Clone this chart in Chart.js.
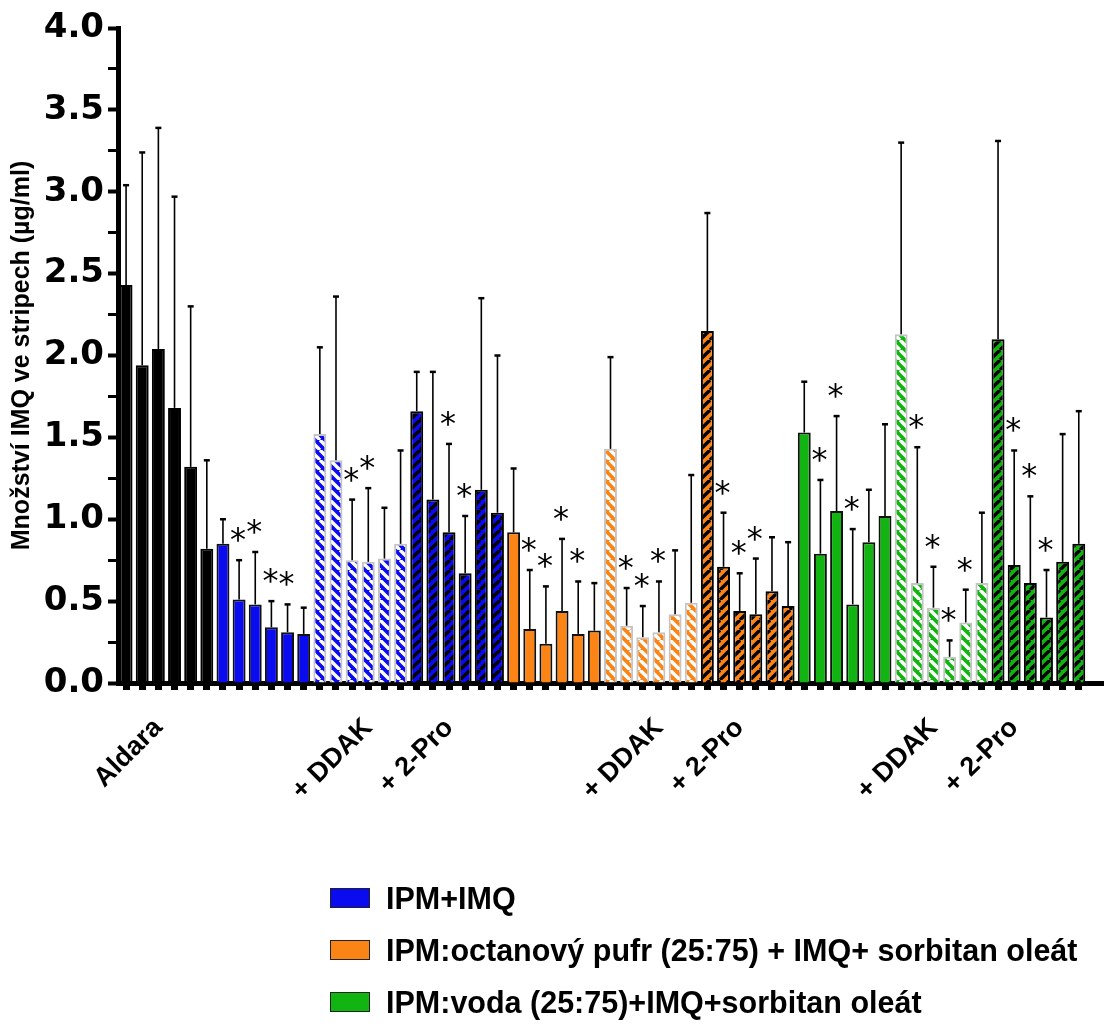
<!DOCTYPE html>
<html>
<head>
<meta charset="utf-8">
<script src="https://cdn.jsdelivr.net/npm/chart.js@4.4.1/dist/chart.umd.min.js"></script>
<style>
  html, body { margin: 0; padding: 0; background: #fff; }
  #wrap { position: relative; width: 1105px; height: 1035px; }
  #legend { position: absolute; left: 330px; top: 872px; font: bold 30.5px "Liberation Sans", Arial, sans-serif; color: #000; }
  #legend div { display: flex; align-items: center; height: 52px; white-space: nowrap; }
  #legend span.box { display: inline-block; width: 38px; height: 18px; border: 1.5px solid #222; margin-right: 16px; }
</style>
</head>
<body>
<div id="wrap">
  <canvas id="chart" width="1105" height="1035"></canvas>
  <div id="legend"></div>
</div>
<script>
// mean values (µg/ml) per group of six strips, upper error, significance star
const aldara      = [2.43, 1.94, 2.04, 1.68, 1.32, 0.82];
const aldaraErr   = [0.61, 1.30, 1.35, 1.29, 0.98, 0.54];
const aldaraSig   = [0, 0, 0, 0, 0, 0];

const ipm         = [0.85, 0.51, 0.48, 0.34, 0.31, 0.30];
const ipmErr      = [0.15, 0.24, 0.32, 0.16, 0.17, 0.16];
const ipmSig      = [0, 1, 1, 1, 1, 0];
const ipmDdak     = [1.52, 1.36, 0.75, 0.74, 0.76, 0.85];
const ipmDdakErr  = [0.53, 1.00, 0.37, 0.45, 0.31, 0.57];
const ipmDdakSig  = [0, 0, 1, 1, 0, 0];
const ipmPro      = [1.66, 1.12, 0.92, 0.67, 1.18, 1.04];
const ipmProErr   = [0.24, 0.78, 0.54, 0.35, 1.17, 0.96];
const ipmProSig   = [0, 0, 1, 1, 0, 0];

const pufr        = [0.92, 0.33, 0.24, 0.44, 0.30, 0.32];
const pufrErr     = [0.39, 0.36, 0.35, 0.44, 0.32, 0.29];
const pufrSig     = [0, 1, 1, 1, 1, 0];
const pufrDdak    = [1.43, 0.35, 0.28, 0.31, 0.42, 0.49];
const pufrDdakErr = [0.56, 0.23, 0.19, 0.31, 0.39, 0.78];
const pufrDdakSig = [0, 1, 1, 1, 0, 0];
const pufrPro     = [2.15, 0.71, 0.44, 0.42, 0.56, 0.47];
const pufrProErr  = [0.72, 0.33, 0.23, 0.34, 0.33, 0.39];
const pufrProSig  = [0, 1, 1, 1, 0, 0];

const voda        = [1.53, 0.79, 1.05, 0.48, 0.86, 1.02];
const vodaErr     = [0.31, 0.45, 0.58, 0.46, 0.32, 0.56];
const vodaSig     = [0, 1, 1, 1, 0, 0];
const vodaDdak    = [2.13, 0.61, 0.46, 0.16, 0.37, 0.61];
const vodaDdakErr = [1.17, 0.83, 0.25, 0.10, 0.20, 0.43];
const vodaDdakSig = [0, 1, 1, 1, 1, 0];
const vodaPro     = [2.10, 0.72, 0.61, 0.40, 0.74, 0.85];
const vodaProErr  = [1.21, 0.70, 0.53, 0.29, 0.78, 0.81];
const vodaProSig  = [0, 1, 1, 1, 0, 0];

// x tick labels and the bar they sit under
const axisLabels    = ['Aldara', '+ DDAK', '+ 2-Pro', '+ DDAK', '+ 2-Pro', '+ DDAK', '+ 2-Pro'];
const axisLabelBars = [2, 15, 20, 33, 38, 50, 55];

const seriesNames  = ['IPM+IMQ', 'IPM:octanový pufr (25:75) + IMQ+ sorbitan oleát', 'IPM:voda (25:75)+IMQ+sorbitan oleát'];
const seriesColors = ['#0b0bf0', '#fb8416', '#12b412'];

const canvas = document.getElementById('chart');
const ctx = canvas.getContext('2d');

function stripes(base, line, rising) {
  const s = 10;
  const tile = document.createElement('canvas');
  tile.width = tile.height = s;
  const g = tile.getContext('2d');
  g.fillStyle = base;
  g.fillRect(0, 0, s, s);
  g.strokeStyle = line;
  g.lineWidth = 3.4;
  for (const o of [-s, 0, s]) {
    g.beginPath();
    if (rising) { g.moveTo(o, s); g.lineTo(o + s, 0); }
    else { g.moveTo(o, 0); g.lineTo(o + s, s); }
    g.stroke();
  }
  return ctx.createPattern(tile, 'repeat');
}

const groups = [
  { mean: aldara,   err: aldaraErr,   sig: aldaraSig,   fill: '#000', border: '#000' },
  { mean: ipm,      err: ipmErr,      sig: ipmSig,      fill: seriesColors[0], border: '#111' },
  { mean: ipmDdak,  err: ipmDdakErr,  sig: ipmDdakSig,  fill: stripes(seriesColors[0], '#fff', false), border: '#c4c4c4' },
  { mean: ipmPro,   err: ipmProErr,   sig: ipmProSig,   fill: stripes(seriesColors[0], '#000', true), border: '#000' },
  { mean: pufr,     err: pufrErr,     sig: pufrSig,     fill: seriesColors[1], border: '#111' },
  { mean: pufrDdak, err: pufrDdakErr, sig: pufrDdakSig, fill: stripes(seriesColors[1], '#fff', false), border: '#c4c4c4' },
  { mean: pufrPro,  err: pufrProErr,  sig: pufrProSig,  fill: stripes(seriesColors[1], '#000', true), border: '#000' },
  { mean: voda,     err: vodaErr,     sig: vodaSig,     fill: seriesColors[2], border: '#111' },
  { mean: vodaDdak, err: vodaDdakErr, sig: vodaDdakSig, fill: stripes(seriesColors[2], '#fff', false), border: '#c4c4c4' },
  { mean: vodaPro,  err: vodaProErr,  sig: vodaProSig,  fill: stripes(seriesColors[2], '#000', true), border: '#000' }
];

const values = [], errors = [], stars = [], fills = [], borders = [];
groups.forEach(g => {
  g.mean.forEach((v, i) => {
    values.push(v);
    errors.push(g.err[i]);
    stars.push(g.sig[i]);
    fills.push(g.fill);
    borders.push(g.border);
  });
});
const nBars = values.length;
// one spare slot at the right so the axis runs past the last bar
const labels = Array.from({ length: nBars + 1 }, (_, i) => {
  const k = axisLabelBars.indexOf(i);
  return k >= 0 ? axisLabels[k] : '';
});

const errorBars = {
  id: 'errorBars',
  afterDatasetsDraw(chart) {
    const c = chart.ctx;
    const y = chart.scales.y;
    const bars = chart.getDatasetMeta(0).data;
    c.save();
    c.strokeStyle = '#000';
    c.fillStyle = '#000';
    c.font = '32px "DejaVu Sans"';
    c.textAlign = 'center';
    bars.forEach((bar, i) => {
      const y0 = y.getPixelForValue(values[i]);
      const y1 = y.getPixelForValue(values[i] + errors[i]);
      c.lineWidth = 1.6;
      c.beginPath(); c.moveTo(bar.x, y0); c.lineTo(bar.x, y1); c.stroke();
      c.lineWidth = 2.5;
      c.beginPath(); c.moveTo(bar.x - 3, y1); c.lineTo(bar.x + 3, y1); c.stroke();
      if (stars[i]) c.fillText('*', bar.x - 1, y1 - 10);
    });
    c.restore();
  }
};

new Chart(ctx, {
  type: 'bar',
  data: {
    labels: labels,
    datasets: [{
      data: values,
      backgroundColor: fills,
      borderColor: borders,
      borderWidth: 2,
      barPercentage: 0.8,
      categoryPercentage: 1
    }]
  },
  options: {
    responsive: false,
    animation: false,
    devicePixelRatio: 1,
    layout: { padding: { top: 28, right: 2, left: 0, bottom: 0 } },
    plugins: { legend: { display: false }, tooltip: { enabled: false } },
    scales: {
      x: {
        offset: true,
        grid: {
          offset: false,
          drawOnChartArea: false,
          tickLength: 7,
          tickWidth: 7,
          tickColor: c => c.index < nBars ? '#000' : 'rgba(0,0,0,0)'
        },
        border: { color: '#000', width: 5 },
        ticks: {
          autoSkip: false,
          minRotation: 45,
          maxRotation: 45,
          padding: 22,
          color: '#000',
          font: { family: 'Liberation Sans', weight: 'bold', size: 27 }
        },
        afterFit: s => {
          s.height = 1035 - 683;
          s.paddingLeft = 0;
          s.paddingRight = 0;
        }
      },
      y: {
        min: 0,
        max: 4,
        ticks: {
          stepSize: 0.25,
          autoSkip: false,
          padding: 4,
          color: '#000',
          font: { family: 'DejaVu Sans', weight: 'bold', size: 34 },
          callback: v => (v * 2) % 1 === 0 ? v.toFixed(1) : ''
        },
        grid: {
          drawOnChartArea: false,
          tickLength: 10,
          tickWidth: c => (c.tick && (c.tick.value * 2) % 1 === 0) ? 4 : 3,
          tickColor: '#000'
        },
        border: { color: '#000', width: 5 },
        title: {
          display: true,
          text: 'Množství IMQ ve stripech (µg/ml)',
          color: '#000',
          font: { family: 'Liberation Sans', weight: 'bold', size: 25 },
          padding: { top: 7, bottom: 0 }
        },
        afterFit: s => { s.width = 118; }
      }
    }
  },
  plugins: [errorBars]
});

const legend = document.getElementById('legend');
seriesNames.forEach((name, i) => {
  const row = document.createElement('div');
  const box = document.createElement('span');
  box.className = 'box';
  box.style.background = seriesColors[i];
  row.appendChild(box);
  row.appendChild(document.createTextNode(name));
  legend.appendChild(row);
});
</script>
</body>
</html>
